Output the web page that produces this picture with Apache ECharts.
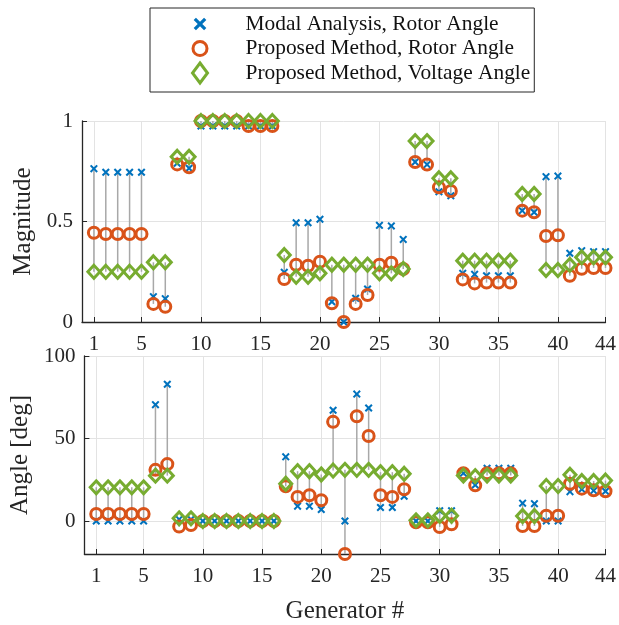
<!DOCTYPE html>
<html>
<head>
<meta charset="utf-8">
<script src="https://cdn.jsdelivr.net/npm/echarts@6/dist/echarts.min.js"></script>
<style>html,body{margin:0;padding:0;background:#fff}#c{width:619px;height:625px}</style>
</head>
<body>
<div id="c"></div>
<script>
const generators = Array.from({length: 44}, (_, i) => i + 1);
const xTicks = [1, 5, 10, 15, 20, 25, 30, 35, 40, 44];
const magTicks = [0, 0.5, 1];
const angTicks = [0, 50, 100];

const magModal = [0.763,0.745,0.745,0.745,0.745,0.126,0.116,0.79,0.765,0.975,
  0.975,0.975,0.975,0.975,0.975,0.975,0.247,0.494,0.494,0.511,
  0.101,0.0,0.118,0.164,0.481,0.478,0.411,0.796,0.783,0.648,
  0.628,0.242,0.237,0.23,0.23,0.23,0.554,0.546,0.723,0.726,
  0.342,0.355,0.35,0.35];
const magProp = [0.444,0.438,0.438,0.438,0.438,0.09,0.076,0.784,0.77,1.0,
  1.0,1.0,1.0,0.975,0.975,0.975,0.214,0.285,0.28,0.30,
  0.093,0.0,0.09,0.134,0.285,0.295,0.264,0.796,0.783,0.670,
  0.652,0.212,0.192,0.196,0.196,0.196,0.554,0.546,0.428,0.431,
  0.23,0.265,0.269,0.269];
const magVolt = [0.25,0.25,0.25,0.25,0.25,0.297,0.297,0.822,0.822,1.0,
  1.0,1.0,1.0,1.0,1.0,1.0,0.333,0.225,0.225,0.242,
  0.285,0.285,0.285,0.285,0.242,0.242,0.264,0.90,0.90,0.715,
  0.715,0.305,0.305,0.305,0.305,0.305,0.637,0.637,0.259,0.259,
  0.284,0.322,0.322,0.322];

const angModal = [0,0,0,0,0,70.5,82.9,1,1,0,
  0,0,0,0,0,0,38.9,9,9,7,
  67.1,0,76.9,68.5,8.2,8.2,15,0,0,6.2,
  6.2,29,21.8,32,32,32,10.8,10.5,0,0,
  17.8,19.2,18.4,18];
const angProp = [4.2,4.2,4.2,4.2,4.2,31,34.5,-3.4,-2.4,0,
  0,0,0,0,0,0,21,14.6,15.6,12.6,
  60.1,-20,63.5,51.5,15.6,14.6,19.2,-0.8,-0.8,-3.6,
  -2,29,21.6,29,29,29,-3,-3,3.2,3.2,
  22.6,19.6,18.6,18];
const angVolt = [20.4,20.4,20.4,20.4,20.4,27.5,27.5,1.6,1.6,0,
  0,0,0,0,0,0,22.6,30.2,30.2,28.2,
  30.6,31,31,31,29.6,29.6,28.6,0.4,0.4,3.2,
  3.2,27.6,27.2,27.6,27.6,27.6,3,3,21.2,21.2,
  28,24.2,24.2,24.5];

const names = ['Modal Analysis, Rotor Angle', 'Proposed Method, Rotor Angle', 'Proposed Method, Voltage Angle'];
const FONT = 'Liberation Serif';
const BLUE = '#0072BD', ORANGE = '#D95319', GREEN = '#77AC30';
const XSHAPE = 'M0,1.8 L1.8,0 L5,3.2 L8.2,0 L10,1.8 L6.8,5 L10,8.2 L8.2,10 L5,6.8 L1.8,10 L0,8.2 L3.2,5 Z';
const XPATH = 'path://' + XSHAPE;
const DPATH = 'path://M6,0 L12,7 L6,14 L0,7 Z';
const LEG_X = 'path://M-2.9,-2.9 M12.9,12.9 ' + XSHAPE;
const LEG_O = 'path://M0,0 M20,20 M17,10 A7,7 0 1,1 3,10 A7,7 0 1,1 17,10 Z';
const LEG_D = 'path://M7.5,0 L15,10 L7.5,20 L0,10 Z';

function pairs(vals) { return generators.map((g, i) => [g, vals[i]]); }
function stems(a, b, c) {
  return generators.map((g, i) => [g, Math.min(a[i], b[i], c[i]), Math.max(a[i], b[i], c[i])]);
}
function stemSeries(idx, a, b, c) {
  return {
    type: 'custom', xAxisIndex: idx, yAxisIndex: idx, silent: true, z: 1,
    data: stems(a, b, c), encode: {x: 0, y: [1, 2]},
    renderItem: function (params, api) {
      const p1 = api.coord([api.value(0), api.value(1)]);
      const p2 = api.coord([api.value(0), api.value(2)]);
      return {type: 'line', shape: {x1: p1[0], y1: p1[1], x2: p2[0], y2: p2[1]},
        style: {stroke: '#a8a8a8', lineWidth: 1.5}};
    }
  };
}
function markerSeries(idx, a, b, c) {
  return [
    {name: names[0], type: 'scatter', xAxisIndex: idx, yAxisIndex: idx, z: 2,
      symbol: XPATH, symbolSize: 8, data: pairs(a), itemStyle: {color: BLUE, opacity: 1}},
    {name: names[1], type: 'scatter', xAxisIndex: idx, yAxisIndex: idx, z: 3,
      symbol: 'circle', symbolSize: 11, data: pairs(b),
      itemStyle: {color: 'rgba(255,255,255,0)', borderColor: ORANGE, borderWidth: 3, opacity: 1}},
    {name: names[2], type: 'scatter', xAxisIndex: idx, yAxisIndex: idx, z: 4,
      symbol: DPATH, symbolSize: [12, 13], data: pairs(c),
      itemStyle: {color: 'rgba(255,255,255,0)', borderColor: GREEN, borderWidth: 3, opacity: 1}}
  ];
}
function xAxisDef(idx, withName) {
  const ax = {
    type: 'value', gridIndex: idx, min: 0, max: 44,
    axisLine: {show: true, onZero: false, lineStyle: {color: '#262626', width: 1.3}},
    axisTick: {show: true, inside: true, length: 5, customValues: xTicks, lineStyle: {color: '#262626'}},
    axisLabel: {customValues: xTicks, fontSize: 21, fontFamily: FONT, color: '#262626', margin: 12},
    splitLine: {show: true, lineStyle: {color: '#e3e3e3', width: 1}}
  };
  if (withName) {
    ax.name = 'Generator #'; ax.nameLocation = 'middle'; ax.nameGap = 45;
    ax.nameTextStyle = {fontSize: 25, fontFamily: FONT, color: '#262626'};
  }
  return ax;
}
function yAxisDef(idx, min, max, ticks, name) {
  return {
    type: 'value', gridIndex: idx, min: min, max: max,
    name: name, nameLocation: 'middle', nameGap: 39,
    nameTextStyle: {fontSize: 25, fontFamily: FONT, color: '#262626'},
    axisLine: {show: true, onZero: false, lineStyle: {color: '#262626', width: 1.3}},
    axisTick: {show: true, inside: true, length: 5, customValues: ticks, lineStyle: {color: '#262626'}},
    axisLabel: {customValues: ticks, fontSize: 21, fontFamily: FONT, color: '#262626', margin: 9},
    splitLine: {show: true, lineStyle: {color: '#e3e3e3', width: 1}}
  };
}

const chart = echarts.init(document.getElementById('c'), null, {renderer: 'canvas'});
chart.setOption({
  backgroundColor: '#fff',
  animation: false,
  legend: {
    orient: 'vertical', left: 150, top: 8,
    padding: [4, 4, 7, 38.5],
    itemWidth: 20, itemHeight: 20, itemGap: 0.5,
    backgroundColor: '#fff', borderColor: '#262626', borderWidth: 1,
    textStyle: {fontSize: 21.4, fontFamily: FONT, color: '#111', lineHeight: 24, padding: [0, 0, 0, 30.5]},
    data: [
      {name: names[0], icon: LEG_X},
      {name: names[1], icon: LEG_O, itemStyle: {borderWidth: 3, borderColor: ORANGE, color: 'rgba(255,255,255,0)'}},
      {name: names[2], icon: LEG_D, itemStyle: {borderWidth: 3, borderColor: GREEN, color: 'rgba(255,255,255,0)'}}
    ]
  },
  grid: [
    {left: 82, right: 12, top: 121, height: 201},
    {left: 82, right: 12, top: 356, height: 200}
  ],
  xAxis: [xAxisDef(0, false), xAxisDef(1, true)],
  yAxis: [
    yAxisDef(0, 0, 1, magTicks, 'Magnitude'),
    yAxisDef(1, -20, 100, angTicks, 'Angle [deg]')
  ],
  series: [
    stemSeries(0, magModal, magProp, magVolt),
    ...markerSeries(0, magModal, magProp, magVolt),
    stemSeries(1, angModal, angProp, angVolt),
    ...markerSeries(1, angModal, angProp, angVolt)
  ]
});
</script>
</body>
</html>
